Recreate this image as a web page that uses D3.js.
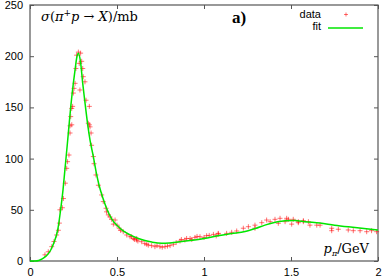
<!DOCTYPE html>
<html><head><meta charset="utf-8">
<script src="https://cdn.jsdelivr.net/npm/d3@7"></script>
<style>
html,body{margin:0;padding:0;background:#fff;}
svg{display:block;}
.tick text{font-family:"Liberation Sans",Arial,sans-serif;font-size:11px;fill:#000;}
</style></head><body>
<svg id="chart" width="383" height="278"></svg>
<script>
// ---- data ----
const xTicks = [0, 0.5, 1, 1.5, 2];
const xTickLabels = ["0", "0.5", "1", "1.5", "2"];
const yTicks = [0, 50, 100, 150, 200, 250];
const yTickLabels = ["0", "50", "100", "150", "200", "250"];

const fitP = [0,0.03,0.05,0.07,0.09,0.10,0.12,0.14,0.16,0.176,0.19,0.20,0.215,0.224,0.235,0.249,0.26,0.268,0.278,0.29,0.303,0.315,0.331,0.345,0.364,0.38,0.397,0.42,0.44,0.47,0.508,0.54,0.57,0.623,0.66,0.70,0.757,0.80,0.85,0.92,1.0,1.09,1.16,1.236,1.30,1.35,1.41,1.466,1.523,1.58,1.667,1.75,1.83,1.92,2.0];
const fitS = [0,0,0.5,2,4.5,6,11,19,31,50,70,88,115,132,152,173.5,188,198,203,195,173.5,156,134,118,102,87,74,61,51.5,41,33.5,29,26,22,20,18.5,17.3,17.6,18.5,20,22,25,26.8,28.8,32,35,37.8,39.4,39.6,38.4,37,35,33.4,31.8,30.3];

const dataP = [0.086,0.105,0.125,0.138,0.153,0.163,0.169,0.172,0.186,0.192,0.203,0.211,0.216,0.224,0.23,0.24,0.23,0.234,0.24,0.245,0.249,0.253,0.259,0.264,0.268,0.278,0.291,0.283,0.297,0.287,0.303,0.306,0.316,0.322,0.341,0.335,0.345,0.341,0.351,0.354,0.364,0.368,0.379,0.393,0.412,0.421,0.437,0.44,0.45,0.46,0.469,0.479,0.489,0.50,0.513,0.52,0.536,0.556,0.575,0.584,0.594,0.60,0.613,0.613,0.62,0.642,0.66,0.671,0.68,0.699,0.718,0.73,0.747,0.76,0.776,0.79,0.805,0.824,0.84,0.862,0.87,0.89,0.90,0.92,0.93,0.948,0.96,0.977,1.0,1.015,1.03,1.054,1.07,1.082,1.082,1.13,1.159,1.188,1.226,1.255,1.293,1.293,1.332,1.36,1.38,1.408,1.427,1.437,1.466,1.475,1.485,1.504,1.513,1.542,1.542,1.571,1.571,1.6,1.609,1.648,1.667,1.734,1.734,1.772,1.829,1.858,1.897,1.935,1.963,1.992];
const dataS = [6,9,14,19,25.4,30,37,50,52,61,76,90.5,97,103.5,125,133,132,141,149,151,164,168.6,173.5,188,201,204,203,193,195,167,188,180,175,157,151,134.5,131,133,125,113,102,95,84,74,64.5,58,51.5,48,45,43,40.7,36,40,35,32,30,28.6,25.4,23.7,23.7,22,21,22,20.5,19.5,18.8,17,16.3,15.5,15,14,15,14,13.5,14,14.5,15,16.3,18,19.5,21,20.5,22,22,21,23,24,23.7,23,24.7,25,26,24.5,27,26.4,27,28,29.3,32,33.5,32,35,37.4,40,38.4,40.7,36.8,41.7,38.4,41.7,40.7,36,40.7,38.4,37.4,38.4,39.4,38.4,35,35,35,32,29.6,31,30.3,29.6,29.6,28.6,29.6,28.6];

// ---- layout ----
const svg = d3.select("#chart");
const L = 30, R = 378, T = 5, B = 261;
const x = d3.scaleLinear().domain([0, 2]).range([L, R]);
const y = d3.scaleLinear().domain([0, 250]).range([B, T]);
const frameColor = "#555";
const tickLen = 4;

// axes (ticks inward, labels outside)
const xAxis = d3.axisBottom(x).tickValues(xTicks).tickFormat((d,i)=>xTickLabels[i]).tickSizeInner(-tickLen).tickSizeOuter(0).tickPadding(7);
const yAxis = d3.axisLeft(y).tickValues(yTicks).tickFormat((d,i)=>yTickLabels[i]).tickSizeInner(-tickLen).tickSizeOuter(0).tickPadding(7);
const gx = svg.append("g").attr("transform",`translate(0,${B})`).call(xAxis);
const gy = svg.append("g").attr("transform",`translate(${L},0)`).call(yAxis);
// mirrored ticks
const xTop = d3.axisTop(x).tickValues(xTicks).tickFormat("").tickSizeInner(-tickLen).tickSizeOuter(0);
const yRight = d3.axisRight(y).tickValues(yTicks).tickFormat("").tickSizeInner(-tickLen).tickSizeOuter(0);
const gxt = svg.append("g").attr("transform",`translate(0,${T})`).call(xTop);
const gyr = svg.append("g").attr("transform",`translate(${R},0)`).call(yRight);
[gx,gy,gxt,gyr].forEach(g=>{
  g.select(".domain").remove();
  g.selectAll(".tick line").attr("stroke",frameColor).attr("stroke-width",1);
});
gx.selectAll(".tick text").attr("dy","0.71em");
// frame
svg.append("rect").attr("x",L).attr("y",T).attr("width",R-L).attr("height",B-T)
  .attr("fill","none").attr("stroke",frameColor).attr("stroke-width",1.2);

// data markers
const plus = (cx, cy, s) => `M${cx-s},${cy}H${cx+s}M${cx},${cy-s}V${cy+s}`;
const dataG = svg.append("g");
dataP.forEach((p,i)=>{
  dataG.append("path").attr("d", plus(x(p), y(dataS[i]), 2.5))
    .attr("stroke","#ff0000").attr("stroke-opacity",0.55).attr("stroke-width",1).attr("fill","none");
});

// fit line
const line = d3.line().x((d,i)=>x(fitP[i])).y((d,i)=>y(fitS[i])).curve(d3.curveMonotoneX);
svg.append("path").attr("d", line(fitP)).attr("fill","none").attr("stroke","#00e600").attr("stroke-width",1.5);

// texts
svg.append("text").attr("x",41).attr("y",21)
  .attr("font-family","'DejaVu Serif','Liberation Serif',serif").attr("font-size",13)
  .html('<tspan font-style="italic">σ</tspan>(<tspan font-style="italic">π</tspan><tspan dy="-5" font-size="9">+</tspan><tspan dy="5" font-style="italic">p</tspan> → <tspan font-style="italic">X</tspan>)/mb');
svg.append("text").attr("x",232).attr("y",23)
  .attr("font-family","'Liberation Serif','DejaVu Serif',serif").attr("font-size",17).attr("font-weight","bold")
  .text("a)");
svg.append("text").attr("x",369).attr("y",253).attr("text-anchor","end")
  .attr("font-family","'DejaVu Serif','Liberation Serif',serif").attr("font-size",13)
  .html('<tspan font-style="italic">p</tspan><tspan dy="3" font-size="8" font-style="italic">π</tspan><tspan dy="-3">/GeV</tspan>');

// legend
const lf = "'Liberation Sans',Arial,sans-serif";
svg.append("text").attr("x",321).attr("y",18).attr("text-anchor","end").attr("font-family",lf).attr("font-size",11).text("data");
svg.append("text").attr("x",321).attr("y",30).attr("text-anchor","end").attr("font-family",lf).attr("font-size",11).text("fit");
svg.append("path").attr("d", plus(346, 14.5, 2)).attr("stroke","#ff0000").attr("stroke-opacity",0.55).attr("stroke-width",1);
svg.append("line").attr("x1",328).attr("x2",363).attr("y1",28).attr("y2",28).attr("stroke","#00e600").attr("stroke-width",1.5);
</script>
</body></html>
